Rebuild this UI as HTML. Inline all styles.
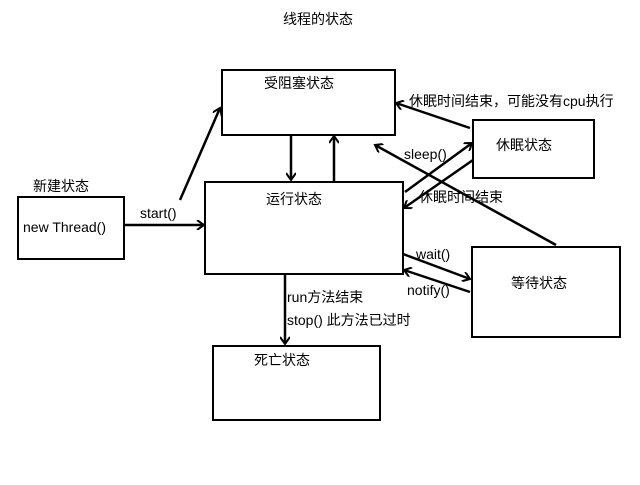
<!DOCTYPE html>
<html><head><meta charset="utf-8"><style>
body{margin:0;background:#fff;width:640px;height:480px;overflow:hidden}
svg text{font-family:"Liberation Sans","Noto Sans CJK SC",sans-serif;font-size:14px;fill:#000}
</style></head><body>
<svg width="640" height="480" xmlns="http://www.w3.org/2000/svg">
<defs><marker id="a" markerWidth="10" markerHeight="10" refX="8" refY="5" orient="auto" markerUnits="userSpaceOnUse"><path d="M1,0 L8,5 L1,10" fill="none" stroke="#000" stroke-width="2"/></marker></defs>
<g fill="none" stroke="#000" stroke-width="2">
<rect x="18" y="197" width="106" height="62"/>
<rect x="222" y="70" width="173" height="65"/>
<rect x="205" y="182" width="198" height="92"/>
<rect x="473" y="120" width="121" height="58"/>
<rect x="472" y="247" width="148" height="90"/>
<rect x="213" y="346" width="167" height="74"/>
</g>
<g stroke="#000" stroke-width="2.5" marker-end="url(#a)">
<line x1="124" y1="225" x2="204" y2="225"/>
<line x1="180" y1="200" x2="220" y2="108"/>
<line x1="291" y1="135" x2="291" y2="180"/>
<line x1="334" y1="182" x2="334" y2="136"/>
<line x1="405" y1="192" x2="472" y2="143"/>
<line x1="473" y1="160" x2="404" y2="208"/>
<line x1="470" y1="128" x2="396" y2="103"/>
<line x1="556" y1="245" x2="375" y2="145"/>
<line x1="403" y1="254" x2="470" y2="279"/>
<line x1="470" y1="292" x2="404" y2="270"/>
<line x1="285" y1="274" x2="285" y2="344"/>
</g>
<text x="283" y="24">线程的状态</text>
<text x="33" y="191">新建状态</text>
<text x="23" y="232">new Thread()</text>
<text x="140" y="218">start()</text>
<text x="264" y="88">受阻塞状态</text>
<text x="266" y="204">运行状态</text>
<text x="496" y="150">休眠状态</text>
<text x="511" y="288">等待状态</text>
<text x="254" y="365">死亡状态</text>
<text x="409" y="106">休眠时间结束，可能没有cpu执行</text>
<text x="404" y="159">sleep()</text>
<text x="419" y="202">休眠时间结束</text>
<text x="416" y="259">wait()</text>
<text x="407" y="295">notify()</text>
<text x="287" y="302">run方法结束</text>
<text x="287" y="325">stop()  此方法已过时</text>
</svg>
</body></html>
